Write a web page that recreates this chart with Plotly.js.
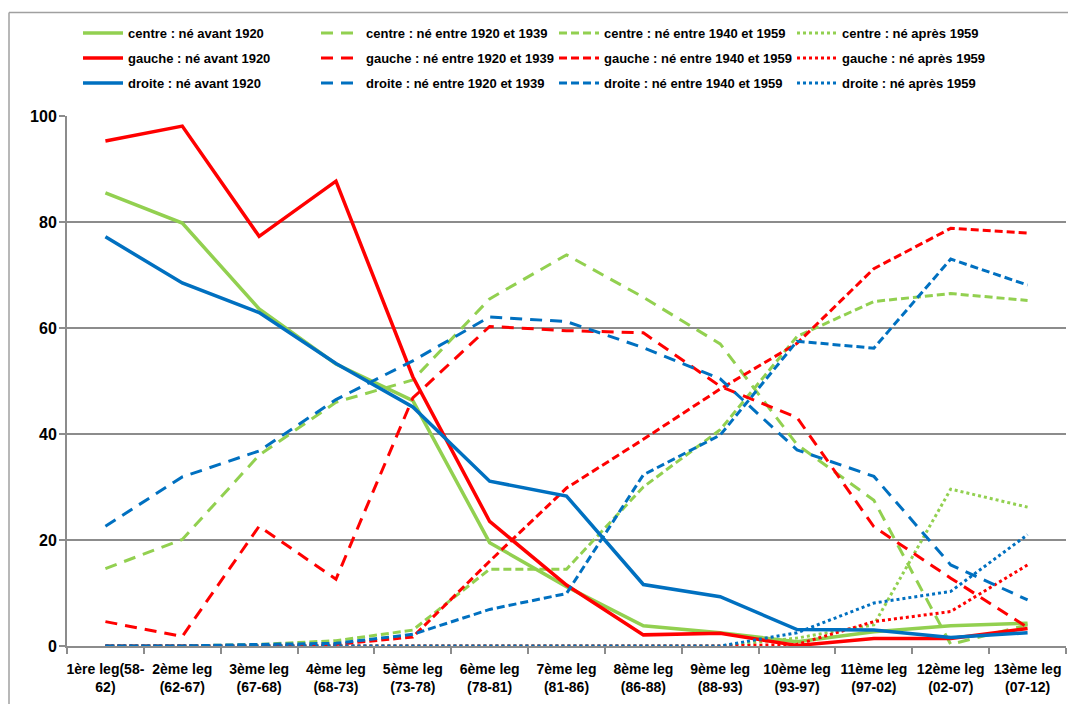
<!DOCTYPE html>
<html>
<head>
<meta charset="utf-8">
<script src="https://cdn.plot.ly/plotly-3.0.1.min.js"></script>
<style>
html,body{margin:0;padding:0;background:#fff;}
#chart{width:1068px;height:704px;}
</style>
</head>
<body>
<div id="chart"></div>
<script>
const categories = ["1ère leg(58-<br>62)", "2ème leg<br>(62-67)", "3ème leg<br>(67-68)", "4ème leg<br>(68-73)", "5ème leg<br>(73-78)", "6ème leg<br>(78-81)", "7ème leg<br>(81-86)", "8ème leg<br>(86-88)", "9ème leg<br>(88-93)", "10ème leg<br>(93-97)", "11ème leg<br>(97-02)", "12ème leg<br>(02-07)", "13ème leg<br>(07-12)"];

const centreAvant1920 = [85.5, 79.8, 63.6, 53.2, 46.3, 19.5, 11.2, 3.8, 2.5, 0.8, 2.7, 3.8, 4.3];
const centre1920_1939 = [14.6, 20.1, 36.0, 46.0, 50.2, 65.5, 73.8, 65.8, 57.0, 38.0, 27.5, 0.3, 4.0];
const centre1940_1959 = [0, 0, 0.3, 1.0, 3.0, 14.5, 14.5, 30.0, 40.8, 58.4, 65.0, 66.5, 65.2];
const centreApres1959 = [0, 0, 0, 0, 0, 0, 0, 0, 0, 1.5, 4.0, 29.6, 26.2];

const gaucheAvant1920 = [95.3, 98.1, 77.3, 87.7, 50.8, 23.5, 11.5, 2.1, 2.4, 0.1, 1.4, 1.4, 3.3];
const gauche1920_1939 = [4.6, 1.8, 22.6, 12.6, 46.8, 60.3, 59.5, 59.1, 49.0, 43.1, 22.5, 12.8, 3.5];
const gauche1940_1959 = [0, 0, 0, 0.3, 1.7, 16.0, 29.8, 39.0, 48.5, 57.1, 71.2, 78.8, 77.9];
const gaucheApres1959 = [0, 0, 0, 0, 0, 0, 0, 0, 0, 0.3, 4.6, 6.5, 15.3];

const droiteAvant1920 = [77.2, 68.5, 62.9, 53.3, 45.1, 31.1, 28.3, 11.6, 9.3, 3.1, 3.0, 1.6, 2.5];
const droite1920_1939 = [22.6, 31.9, 36.8, 46.5, 53.8, 62.1, 61.2, 56.3, 50.4, 37.0, 32.0, 15.3, 8.7];
const droite1940_1959 = [0, 0, 0.3, 0.5, 2.2, 6.9, 9.9, 32.3, 39.8, 57.5, 56.2, 73.0, 68.1];
const droiteApres1959 = [0, 0, 0, 0, 0, 0, 0, 0, 0, 2.5, 8.1, 10.3, 21.0];

const groups = ["centre", "gauche", "droite"];
const cohorts = ["né avant 1920", "né entre 1920 et 1939", "né entre 1940 et 1959", "né après 1959"];
const seriesData = {
  centre: [centreAvant1920, centre1920_1939, centre1940_1959, centreApres1959],
  gauche: [gaucheAvant1920, gauche1920_1939, gauche1940_1959, gaucheApres1959],
  droite: [droiteAvant1920, droite1920_1939, droite1940_1959, droiteApres1959]
};

const colors = {centre: "#92D050", gauche: "#FF0000", droite: "#0070C0"};
const dashes = ["solid", "12px,8px", "8px,4px", "3px,3px"];
const widths = [3.5, 3, 3, 3];
const legendIds = ["legend", "legend2", "legend3"];

const traces = [];
groups.forEach((g, gi) => {
  cohorts.forEach((c, i) => {
    traces.push({
      type: "scatter",
      mode: "lines",
      name: g + " : " + c,
      legend: legendIds[gi],
      x: categories,
      y: seriesData[g][i],
      line: {color: colors[g], width: widths[i], dash: dashes[i]},
      hoverinfo: "skip"
    });
  });
});

const FONT = "Liberation Sans, Arial, sans-serif";
const gray = "#8c8c8c";
const L = 67, R = 2, T = 116, B = 58, W = 1068, H = 704;
const pw = W - L - R, ph = H - T - B;
const px2x = p => (p - L) / pw;
const px2y = p => 1 + (T - p) / ph;

function legendRow(topPx) {
  return {
    orientation: "h",
    x: px2x(78), xanchor: "left",
    y: px2y(topPx), yanchor: "top",
    entrywidth: 183, entrywidthmode: "pixels",
    itemwidth: 40,
    traceorder: "normal",
    bgcolor: "rgba(0,0,0,0)",
    font: {family: FONT, size: 13, weight: "bold", color: "#000"}
  };
}

const layout = {
  width: W, height: H,
  margin: {l: L, r: R, t: T, b: B, pad: 0},
  paper_bgcolor: "#ffffff",
  plot_bgcolor: "#ffffff",
  showlegend: true,
  hovermode: false,
  font: {family: FONT, color: "#000"},
  xaxis: {
    type: "category",
    range: [-0.5, 12.5],
    tickson: "boundaries",
    ticks: "outside",
    ticklen: 6,
    tickwidth: 2,
    tickcolor: gray,
    tickangle: 0,
    showline: true,
    linecolor: gray,
    linewidth: 2,
    showgrid: false,
    zeroline: false,
    tickfont: {family: FONT, size: 14, weight: "bold", color: "#000"},
    ticklabelstandoff: 9,
    fixedrange: true
  },
  yaxis: {
    range: [0, 100],
    dtick: 20,
    ticks: "outside",
    ticklen: 6,
    tickwidth: 2,
    tickcolor: gray,
    showline: true,
    linecolor: gray,
    linewidth: 2,
    showgrid: true,
    gridcolor: gray,
    gridwidth: 2,
    zeroline: false,
    tickfont: {family: FONT, size: 16, weight: "bold", color: "#000"},
    ticklabelstandoff: -1,
    fixedrange: true
  },
  legend: legendRow(18),
  legend2: legendRow(43),
  legend3: legendRow(68),
  shapes: [
    {type: "line", xref: "paper", yref: "paper", x0: px2x(9), x1: px2x(1100), y0: px2y(12.5), y1: px2y(12.5), line: {color: "#a0a0a0", width: 1.5}},
    {type: "line", xref: "paper", yref: "paper", x0: px2x(9), x1: px2x(9), y0: px2y(12.5), y1: px2y(760), line: {color: "#a0a0a0", width: 1.5}}
  ]
};

Plotly.newPlot("chart", traces, layout, {displayModeBar: false, staticPlot: true});
</script>
</body>
</html>
